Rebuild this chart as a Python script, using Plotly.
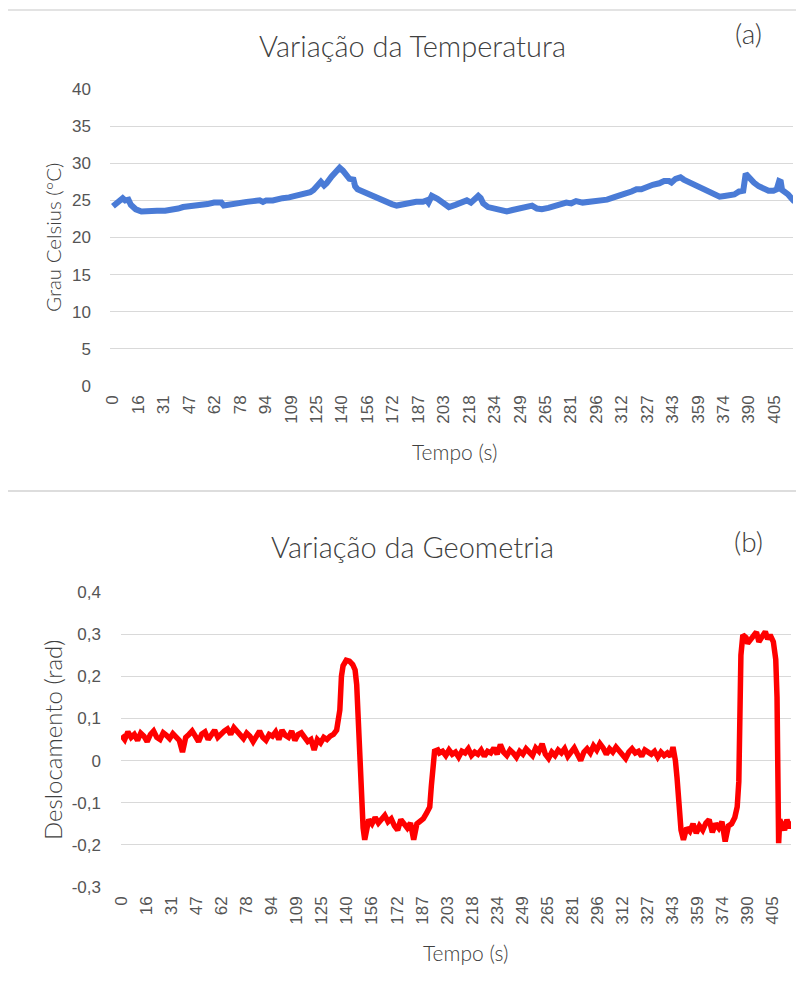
import plotly.graph_objects as go

# page body has an 8px margin, so the figure is drawn 8px smaller and positions shifted
OFF = 8
W, H = 804 - OFF, 989 - OFF

tick_labels = ["0", "16", "31", "47", "62", "78", "94", "109", "125", "140", "156", "172", "187",
               "203", "218", "234", "249", "265", "281", "296", "312", "327", "343", "359", "374",
               "390", "405"]
tick_step = 15.6
tick_vals = [i * tick_step for i in range(len(tick_labels))]

# Temperature series (a)
temp_t = [0, 2, 4, 6, 7.5, 9.5, 11, 14, 17.5, 22, 27, 32, 37, 40, 43, 48, 53, 58, 62, 66.5, 68, 70,
          74, 78, 82, 86, 90, 92, 94, 98, 101, 104, 108, 112, 115, 118, 121, 123, 125, 127.5, 129.5,
          131, 134, 137, 139, 141, 143, 145, 147.5, 148.5, 150, 153, 156, 159, 162, 165, 168, 171,
          174, 178, 182, 186, 190, 192.5, 193.5, 195.5, 199, 202, 206, 210, 214, 217, 219.5, 222,
          224, 225.5, 227, 230, 233, 237, 241.5, 245, 249, 253, 257, 260, 263, 267, 271, 275, 278,
          281, 284, 288, 292, 296, 299, 303, 307, 310, 314, 318, 321, 324, 327, 331, 335, 338, 341,
          342.5, 345, 348, 350, 352, 356, 360, 364, 368, 372, 375, 378, 381, 384, 386.5, 388, 390,
          393, 396, 399, 402, 405, 407, 408.5, 409.5, 410.3, 412, 414, 416, 418]
temp_v = [24.2, 24.6, 24.8, 25.3, 25.0, 25.1, 24.4, 23.8, 23.5, 23.6, 23.6, 23.6, 23.7, 23.9, 24.1,
          24.2, 24.4, 24.5, 24.7, 24.7, 24.3, 24.4, 24.6, 24.8, 24.8, 24.9, 25.0, 24.8, 25.0, 25.0,
          25.2, 25.3, 25.4, 25.6, 25.8, 25.9, 26.1, 26.4, 26.8, 27.5, 27.0, 27.3, 28.2, 29.0, 29.4,
          29.0, 28.3, 27.9, 27.8, 26.9, 26.5, 26.2, 26.0, 25.6, 25.3, 24.9, 24.8, 24.5, 24.3, 24.5,
          24.7, 24.8, 24.8, 25.0, 24.7, 25.6, 25.2, 24.7, 24.1, 24.4, 24.7, 25.0, 24.7, 25.3, 25.6,
          25.3, 24.6, 24.1, 23.9, 23.7, 23.5, 23.7, 23.9, 24.0, 24.3, 23.9, 23.8, 24.0, 24.3, 24.5,
          24.7, 24.6, 24.9, 24.7, 24.8, 24.8, 24.8, 25.1, 25.4, 25.7, 25.9, 26.2, 26.5, 26.5, 26.8,
          27.1, 27.3, 27.6, 27.6, 27.4, 27.9, 28.1, 27.8, 27.6, 27.3, 26.8, 26.4, 25.9, 25.5, 25.6,
          25.6, 25.8, 26.2, 26.3, 28.6, 28.0, 27.4, 26.9, 26.5, 26.3, 26.3, 26.5, 27.6, 27.5, 26.4,
          26.2, 25.8, 25.3, 24.8]

# Geometry series (b)
geo_t = [0, 2, 4, 6, 8, 10, 12, 14, 16, 18, 20, 22, 24, 26, 28, 30, 32, 34, 36, 38, 40, 42, 44, 46,
         48, 50, 52, 54, 56, 58, 60, 62, 64, 66, 68, 70, 72, 74, 76, 78, 80, 82, 84, 86, 88, 90, 92,
         94, 96, 98, 100, 102, 104, 106, 108, 110, 112, 114, 116, 118, 120, 122, 124, 126, 128, 130,
         132, 134, 136, 137, 138, 140, 142, 144, 145.5, 146.5, 147.5, 148.5, 149.5, 150.5, 151.5,
         152.5, 154, 156, 158, 160, 162, 164, 166, 168, 170, 172, 174, 176, 178, 180, 182, 184, 186,
         188, 190, 192, 193, 194, 195, 197, 198, 200, 202, 204, 206, 208, 210, 212, 214, 216, 218,
         220, 222, 224, 226, 228, 230, 232, 234, 236, 238, 240, 242, 244, 246, 248, 250, 252, 254,
         256, 258, 260, 262, 264, 266, 268, 270, 272, 274, 276, 278, 280, 282, 284, 286, 288, 290,
         292, 294, 296, 298, 300, 302, 304, 306, 308, 310, 312, 314, 316, 318, 320, 322, 324, 326,
         328, 330, 332, 334, 336, 338, 340, 342, 343.5, 345, 346, 347, 348.5, 350, 352, 354, 356,
         358, 360, 362, 364, 366, 368, 370, 372, 374, 376, 378, 380, 382, 383.5, 384.5, 385.2,
         385.8, 387, 389, 390, 392, 394, 395.5, 397, 399, 401, 402.5, 404, 406, 407.5, 408.3, 408.8,
         409.3, 410, 411.5, 413, 414.5, 416, 417.5]
geo_v = [0.060, 0.050, 0.068, 0.055, 0.062, 0.048, 0.065, 0.058, 0.045, 0.062, 0.070, 0.055, 0.050,
         0.066, 0.060, 0.052, 0.064, 0.058, 0.048, 0.020, 0.055, 0.062, 0.070, 0.058, 0.045, 0.063,
         0.068, 0.050, 0.060, 0.072, 0.055, 0.065, 0.070, 0.075, 0.062, 0.078, 0.068, 0.060, 0.052,
         0.065, 0.058, 0.045, 0.060, 0.070, 0.055, 0.048, 0.062, 0.058, 0.068, 0.050, 0.072, 0.060,
         0.055, 0.070, 0.048, 0.062, 0.066, 0.055, 0.045, 0.050, 0.025, 0.050, 0.042, 0.055, 0.050,
         0.058, 0.062, 0.072, 0.120, 0.200, 0.225, 0.238, 0.236, 0.228, 0.215, 0.180, 0.080, 0.000,
         -0.080, -0.160, -0.188, -0.160, -0.140, -0.150, -0.135, -0.148, -0.140, -0.130, -0.145,
         -0.138, -0.155, -0.165, -0.140, -0.150, -0.160, -0.148, -0.188, -0.150, -0.145, -0.138,
         -0.125, -0.110, -0.060, 0.000, 0.022, 0.025, 0.018, 0.022, 0.012, 0.025, 0.015, 0.020,
         0.008, 0.022, 0.018, 0.028, 0.012, 0.020, 0.015, 0.025, 0.010, 0.022, 0.018, 0.030, 0.015,
         0.038, 0.020, 0.012, 0.025, 0.018, 0.008, 0.022, 0.015, 0.028, 0.020, 0.012, 0.030, 0.022,
         0.040, 0.015, 0.005, 0.020, 0.012, 0.025, 0.018, 0.028, 0.010, 0.022, 0.030, 0.015, 0.000,
         0.020, 0.028, 0.018, 0.035, 0.025, 0.040, 0.030, 0.015, 0.028, 0.020, 0.032, 0.022, 0.015,
         0.005, 0.020, 0.028, 0.018, 0.022, 0.010, 0.025, 0.020, 0.015, 0.022, 0.008, 0.020, 0.012,
         0.018, 0.010, 0.032, 0.000, -0.040, -0.100, -0.165, -0.188, -0.160, -0.168, -0.150, -0.172,
         -0.155, -0.165, -0.148, -0.140, -0.170, -0.150, -0.160, -0.145, -0.192, -0.155, -0.150,
         -0.135, -0.110, -0.050, 0.100, 0.250, 0.298, 0.292, 0.278, 0.290, 0.296, 0.305, 0.282,
         0.295, 0.306, 0.288, 0.298, 0.282, 0.240, 0.150, 0.000, -0.196, -0.140, -0.150, -0.165,
         -0.140, -0.160, -0.145]

geo_ticks = [-0.3, -0.2, -0.1, 0, 0.1, 0.2, 0.3, 0.4]
geo_tick_text = ["-0,3", "-0,2", "-0,1", "0", "0,1", "0,2", "0,3", "0,4"]
temp_ticks = [0, 5, 10, 15, 20, 25, 30, 35, 40]

FONT = "Lato"
TICK_FONT = dict(family="Liberation Sans", size=17, color="#555555")
GRID = "#d9d9d9"


def py(p):
    return 1 - (p - OFF) / H


def px(p):
    return (p - OFF) / W


fig = go.Figure()
fig.add_trace(go.Scatter(x=temp_t, y=temp_v, mode="lines", xaxis="x", yaxis="y",
                         line=dict(color="#4A7BD6", width=6), showlegend=False))
fig.add_trace(go.Scatter(x=geo_t, y=geo_v, mode="lines", xaxis="x2", yaxis="y2",
                         line=dict(color="#FF0000", width=5.5), showlegend=False))

common_x = dict(tickmode="array", tickvals=tick_vals, ticktext=tick_labels, tickangle=-90,
                showgrid=False, zeroline=False, showline=False, ticks="", tickfont=TICK_FONT,
                ticklabelstandoff=5, automargin=False)

fig.update_layout(
    width=W, height=H,
    margin=dict(l=0, r=0, t=0, b=0, autoexpand=False),
    paper_bgcolor="white", plot_bgcolor="white",
    xaxis=dict(domain=[px(110), px(793)], range=[-1.8, 417], anchor="y", **common_x),
    yaxis=dict(domain=[py(386), py(89)], range=[0, 40], tickmode="array", tickvals=temp_ticks,
               showgrid=True, gridcolor=GRID, gridwidth=1, zeroline=False, showline=False,
               ticks="", tickfont=TICK_FONT, ticklabelstandoff=18, anchor="x", automargin=False),
    xaxis2=dict(domain=[px(121), px(791)], range=[-0.3, 417], anchor="y2", **common_x),
    yaxis2=dict(domain=[py(887), py(592)], range=[-0.3, 0.4], tickmode="array",
                tickvals=geo_ticks, ticktext=geo_tick_text, showgrid=True, gridcolor=GRID,
                gridwidth=1, zeroline=False, showline=False, ticks="", tickfont=TICK_FONT,
                ticklabelstandoff=19, anchor="x2", automargin=False),
)

ann = []
def text(x, y, s, size, angle=0, color="#404040", weight=300):
    ann.append(dict(x=px(x), y=py(y), xref="paper", yref="paper", text=s, showarrow=False,
                    textangle=angle, font=dict(family=FONT, size=size, color=color, weight=weight),
                    xanchor="center", yanchor="middle"))

text(413, 45, "Variação da Temperatura", 29)
text(748, 33, "(a)", 28)
text(454, 451, "Tempo (s)", 21, color="#404040")
text(53, 238, "Grau Celsius (°C)", 20.5, angle=-90, color="#404040")

text(413, 546, "Variação da Geometria", 29)
text(748, 541, "(b)", 28)
text(465, 952, "Tempo (s)", 21, color="#404040")
text(52, 740, "Deslocamento (rad)", 24, angle=-90, color="#404040")
fig.update_layout(annotations=ann)

fig.update_layout(shapes=[
    dict(type="line", xref="paper", yref="paper", x0=0, x1=1, y0=py(10), y1=py(10),
         line=dict(color="#e3e3e3", width=2)),
    dict(type="line", xref="paper", yref="paper", x0=0, x1=1, y0=py(491), y1=py(491),
         line=dict(color="#dddddd", width=2)),
])

fig.write_html("out.html")
